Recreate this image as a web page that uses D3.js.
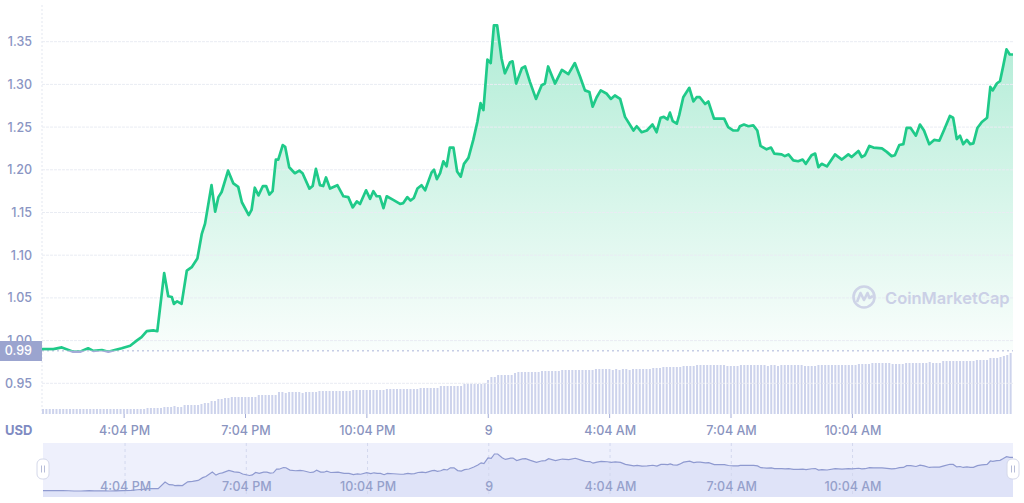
<!DOCTYPE html>
<html><head><meta charset="utf-8">
<script src="https://cdn.jsdelivr.net/npm/d3@7"></script>
<style>html,body{margin:0;padding:0;background:#fff;} svg{display:block;font-family:Inter,"Noto Sans",sans-serif;}</style>
</head><body><svg id="c" width="1024" height="503"></svg>
<script>
// ---- data (hours since 2:02 PM) ----
const hours = [0.00,0.28,0.49,0.77,0.94,1.14,1.27,1.48,1.64,1.80,
1.97,2.18,2.34,2.46,2.59,2.75,2.85,3.02,3.12,3.21,
3.26,3.34,3.45,3.58,3.70,3.84,3.95,4.03,4.19,4.28,
4.36,4.44,4.60,4.73,4.85,4.94,5.11,5.18,5.26,5.35,
5.46,5.54,5.62,5.70,5.78,5.84,5.95,6.01,6.11,6.25,
6.36,6.44,6.61,6.69,6.77,6.87,6.95,7.02,7.12,7.30,
7.45,7.57,7.68,7.78,7.86,8.01,8.11,8.19,8.27,8.35,
8.44,8.52,8.67,8.85,8.93,9.03,9.11,9.19,9.28,9.38,
9.47,9.63,9.69,9.76,9.84,9.92,10.00,10.08,10.17,10.26,
10.35,10.43,10.54,10.66,10.76,10.84,10.91,11.01,11.09,11.17,
11.25,11.36,11.44,11.57,11.63,11.72,11.86,11.94,12.06,12.21,
12.35,12.43,12.51,12.68,12.85,13.01,13.17,13.30,13.42,13.53,
13.61,13.71,13.81,13.96,14.06,14.16,14.29,14.41,14.62,14.70,
14.82,14.95,15.09,15.19,15.29,15.37,15.46,15.52,15.59,15.69,
15.75,15.85,16.00,16.10,16.18,16.26,16.39,16.47,16.61,16.76,
16.86,16.96,17.09,17.20,17.25,17.35,17.46,17.58,17.68,17.76,
17.91,18.02,18.10,18.28,18.36,18.45,18.57,18.69,18.80,18.88,
19.02,19.11,19.19,19.27,19.40,19.60,19.77,19.93,20.01,20.18,
20.26,20.34,20.45,20.55,20.76,20.88,21.00,21.08,21.19,21.29,
21.37,21.47,21.60,21.70,21.80,21.93,22.05,22.18,22.29,22.44,
22.52,22.61,22.69,22.77,22.86,22.94,23.02,23.12,23.23,23.36,
23.44,23.50,23.60,23.68,23.76,23.84,23.92,24.00];

const prices = [0.990,0.990,0.992,0.987,0.987,0.991,0.988,0.989,0.987,0.989,
0.991,0.994,1.000,1.004,1.011,1.012,1.011,1.079,1.052,1.051,
1.043,1.046,1.043,1.082,1.086,1.096,1.125,1.137,1.182,1.151,
1.168,1.174,1.199,1.184,1.180,1.162,1.147,1.153,1.179,1.170,
1.181,1.181,1.171,1.175,1.212,1.212,1.229,1.227,1.203,1.196,
1.199,1.196,1.178,1.181,1.201,1.182,1.181,1.191,1.178,1.182,
1.169,1.168,1.156,1.163,1.160,1.176,1.166,1.175,1.169,1.169,
1.155,1.169,1.165,1.160,1.161,1.168,1.164,1.167,1.178,1.182,
1.176,1.197,1.200,1.189,1.196,1.210,1.204,1.226,1.226,1.198,
1.192,1.207,1.214,1.235,1.256,1.278,1.270,1.329,1.325,1.369,
1.369,1.330,1.313,1.326,1.327,1.301,1.319,1.321,1.303,1.283,
1.299,1.301,1.321,1.301,1.317,1.312,1.325,1.309,1.293,1.291,
1.274,1.285,1.293,1.289,1.283,1.287,1.283,1.262,1.246,1.251,
1.244,1.246,1.253,1.244,1.261,1.262,1.259,1.267,1.257,1.254,
1.264,1.285,1.296,1.280,1.285,1.285,1.277,1.280,1.260,1.260,
1.260,1.250,1.246,1.246,1.251,1.253,1.251,1.252,1.246,1.228,
1.224,1.226,1.219,1.218,1.216,1.218,1.211,1.210,1.212,1.207,
1.217,1.219,1.203,1.207,1.204,1.218,1.212,1.218,1.215,1.222,
1.215,1.217,1.228,1.226,1.225,1.221,1.216,1.217,1.229,1.230,
1.249,1.249,1.240,1.253,1.246,1.230,1.235,1.234,1.246,1.263,
1.261,1.236,1.240,1.230,1.235,1.230,1.231,1.249,1.256,1.261,
1.297,1.293,1.301,1.304,1.322,1.341,1.335,1.335];

// volume bars, one per 5 minutes
const volumeStepHours = 1/12;
const volumes = [5,5,5,5,5,5,5,5,5,5,5,5,5,5,5,5,5,5,5,5,5,5,5,5,5,5,5,5,5,5,5,
6,6,6,6,6, 7,7,7,8,7,7, 9,9,9,9,9,10, 11,11, 13,13, 15,15, 16,16,
17,17,17,17,17,17,17,17, 19,19,19,19,19,19,
22,22,21,22,22,22,22,21,22,22,22,22, 23,23,23,23,23,23,23,23,23,23,
24,24,24,24,24,24,24,24,24,24, 25,25,25,25,25,25,25,25,25,25,
26,26,26,26,26,26, 28,28,28,28,28,28,28, 30,30,30,30,30,30, 31, 34, 37,37,
39,39,39,39,39, 41, 42,42,42,42,42,42,42, 43,43,43,43,43,43,
44,44,44,44,44,44,44,44,44,44, 45,45,45,45,45, 44,45,44,45,45,44,45,
45,45,45,45,45, 46,46,46, 47,47,47,47,47,47, 48,48,48,48,
49,49,49,49,49,49,49,49,49, 48,48,48,48, 49,49,49,49,49,49,49,
49,48,49,49,48,49,49, 49,49,49,49,49, 48,48,48,48,
49,49,49,49,49,49,49,49,49,49,49,49, 50,50,50,50, 51,51,51,51,51,51,
50,50,50,50, 51,51,51,51,51, 51,51,52,51,51,51, 53,53,53,53,
53,53,53,53,53,53, 54,54,54,54, 56,56,56, 57,58,59, 61];

const yTicks = [0.95,1.00,1.05,1.10,1.15,1.20,1.25,1.30,1.35];
const xTickHours = [2.03,5.03,8.03,11.03,14.03,17.03,20.03];
const xTickLabels = ["4:04 PM","7:04 PM","10:04 PM","9","4:04 AM","7:04 AM","10:04 AM"];
const openPrice = 0.988;
const priceLabel = "0.99";
const currencyLabel = "USD";
const brand = "CoinMarketCap";

// ---- drawing ----
const svg = d3.select("#c");
const x = d3.scaleLinear().domain([0,24]).range([42,1013]);
const y = d3.scaleLinear().domain([0.95,1.35]).range([383.3,41.7]);
const yVol = d3.scaleLinear().domain([0,70]).range([414,344]);
const xNav = d3.scaleLinear().domain([0,24]).range([43,1013]);
const yNav = d3.scaleLinear().domain(d3.extent(prices)).range([491,454]);
const data = hours.map((h,i)=>({h, p:prices[i]}));

const defs = svg.append("defs");
const grad = defs.append("linearGradient").attr("id","g").attr("gradientUnits","userSpaceOnUse")
  .attr("x1",0).attr("x2",0).attr("y1",20).attr("y2",355);
grad.append("stop").attr("offset",0).attr("stop-color","#16c784").attr("stop-opacity",0.34);
grad.append("stop").attr("offset",1).attr("stop-color","#16c784").attr("stop-opacity",0.02);
defs.append("clipPath").attr("id","above").append("rect").attr("x",0).attr("y",0).attr("width",1024).attr("height",y(openPrice));
defs.append("clipPath").attr("id","below").append("rect").attr("x",0).attr("y",y(openPrice)).attr("width",1024).attr("height",100);

// left vertical dotted line
svg.append("line").attr("x1",42).attr("x2",42).attr("y1",5).attr("y2",414)
  .attr("stroke","#e3e7f0").attr("stroke-dasharray","2,2");

// volume bars
svg.append("g").selectAll("rect").data(volumes).join("rect")
  .attr("x",(d,i)=>x(i*volumeStepHours)).attr("width",2)
  .attr("y",d=>yVol(d)).attr("height",d=>yVol(0)-yVol(d))
  .attr("fill","#cdd3ec");

// area
const area = d3.area().x(d=>x(d.h)).y0(y(openPrice)).y1(d=>y(d.p));
svg.append("path").datum(data).attr("d",area).attr("fill","url(#g)").attr("clip-path","url(#above)");

// gridlines
svg.append("g").selectAll("line").data(yTicks).join("line")
  .attr("x1",42).attr("x2",1013).attr("y1",d=>y(d)).attr("y2",d=>y(d))
  .attr("stroke","#e9ecf3").attr("stroke-dasharray","3,1");

// watermark
const wm = svg.append("g").attr("transform","translate(864,297)").attr("opacity",0.9);
wm.append("circle").attr("r",10.5).attr("fill","none").attr("stroke","#cbd0e6").attr("stroke-width",2.6);
wm.append("path").attr("d","M-7,5 L-3.5,-4 L0,3 L3.5,-4 L5.5,1 L9,-1").attr("fill","none").attr("stroke","#cbd0e6").attr("stroke-width",2.6).attr("stroke-linejoin","round");
svg.append("text").attr("x",885).attr("y",303.5).attr("font-size",16.5).attr("font-weight",600)
  .attr("fill","#cbd0e6").text(brand);

// open price dotted line
svg.append("line").attr("x1",42).attr("x2",1013).attr("y1",y(openPrice)).attr("y2",y(openPrice))
  .attr("stroke","#aab3d9").attr("stroke-dasharray","2,3");

// price line
const line = d3.line().x(d=>x(d.h)).y(d=>y(d.p));
svg.append("path").datum(data).attr("d",line).attr("fill","none").attr("stroke","#1fca89")
  .attr("stroke-width",2.7).attr("stroke-linejoin","round").attr("clip-path","url(#above)");
svg.append("path").datum(data).attr("d",line).attr("fill","none").attr("stroke","#a3abd8")
  .attr("stroke-width",2.7).attr("stroke-linejoin","round").attr("clip-path","url(#below)");

// y axis
const yAxis = svg.append("g").attr("transform","translate(32,0)")
  .call(d3.axisLeft(y).tickValues(yTicks).tickSize(0).tickPadding(0).tickFormat(d3.format(".2f")));
yAxis.select(".domain").remove();
yAxis.selectAll("text").attr("fill","#8a95c3").attr("font-size",12.5).attr("font-weight",500).attr("font-family","Inter");

// price label box
svg.append("rect").attr("x",0).attr("y",341).attr("width",42).attr("height",20).attr("fill","#9ba4cf");
svg.append("text").attr("x",32).attr("y",351).attr("dy","0.35em").attr("text-anchor","end")
  .attr("fill","#fff").attr("font-size",12.5).attr("font-weight",500).text(priceLabel);

// volume tick marks
svg.append("g").selectAll("line").data(xTickHours).join("line")
  .attr("x1",d=>x(d)).attr("x2",d=>x(d)).attr("y1",414).attr("y2",418)
  .attr("stroke","#a3acd6");

// x axis
const xAxis = svg.append("g").attr("transform","translate(0,426)")
  .call(d3.axisBottom(x).tickValues(xTickHours).tickSize(0).tickPadding(0).tickFormat((d,i)=>xTickLabels[i]));
xAxis.select(".domain").remove();
xAxis.selectAll("text").attr("fill","#8a94c0").attr("font-size",12.5).attr("font-weight",500).attr("font-family","Inter");
svg.append("text").attr("x",5).attr("y",435).attr("font-size",13).attr("font-weight",700)
  .attr("fill","#7f8bc2").text(currencyLabel);

// navigator
svg.append("rect").attr("x",43).attr("y",443).attr("width",970).attr("height",54).attr("fill","#eef0fc");
const navArea = d3.area().x(d=>xNav(d.h)).y0(497).y1(d=>yNav(d.p));
svg.append("path").datum(data).attr("d",navArea).attr("fill","#dfe3f8");
svg.append("g").selectAll("line").data(xTickHours).join("line")
  .attr("x1",d=>xNav(d)).attr("x2",d=>xNav(d)).attr("y1",443).attr("y2",497)
  .attr("stroke","#d3d8ee").attr("stroke-dasharray","3,3");
svg.append("path").datum(data).attr("d",d3.line().x(d=>xNav(d.h)).y(d=>yNav(d.p)))
  .attr("fill","none").attr("stroke","#8f9ad0").attr("stroke-width",1.2);
const navAxis = svg.append("g").attr("transform","translate(0,482)")
  .call(d3.axisBottom(xNav).tickValues(xTickHours).tickSize(0).tickPadding(0).tickFormat((d,i)=>xTickLabels[i]));
navAxis.select(".domain").remove();
navAxis.selectAll("text").attr("fill","#95a0cb").attr("font-size",12.5).attr("font-weight",500).attr("font-family","Inter");

// handles
[43,1013].forEach(hx=>{
  const g = svg.append("g").attr("transform",`translate(${hx},469)`);
  g.append("rect").attr("x",-6).attr("y",-10).attr("width",12).attr("height",20).attr("rx",5)
    .attr("fill","#fff").attr("stroke","#d4d8ea");
  g.append("line").attr("x1",-1.5).attr("x2",-1.5).attr("y1",-3.5).attr("y2",3.5).attr("stroke","#b7bdd8");
  g.append("line").attr("x1",1.5).attr("x2",1.5).attr("y1",-3.5).attr("y2",3.5).attr("stroke","#b7bdd8");
});
</script></body></html>
